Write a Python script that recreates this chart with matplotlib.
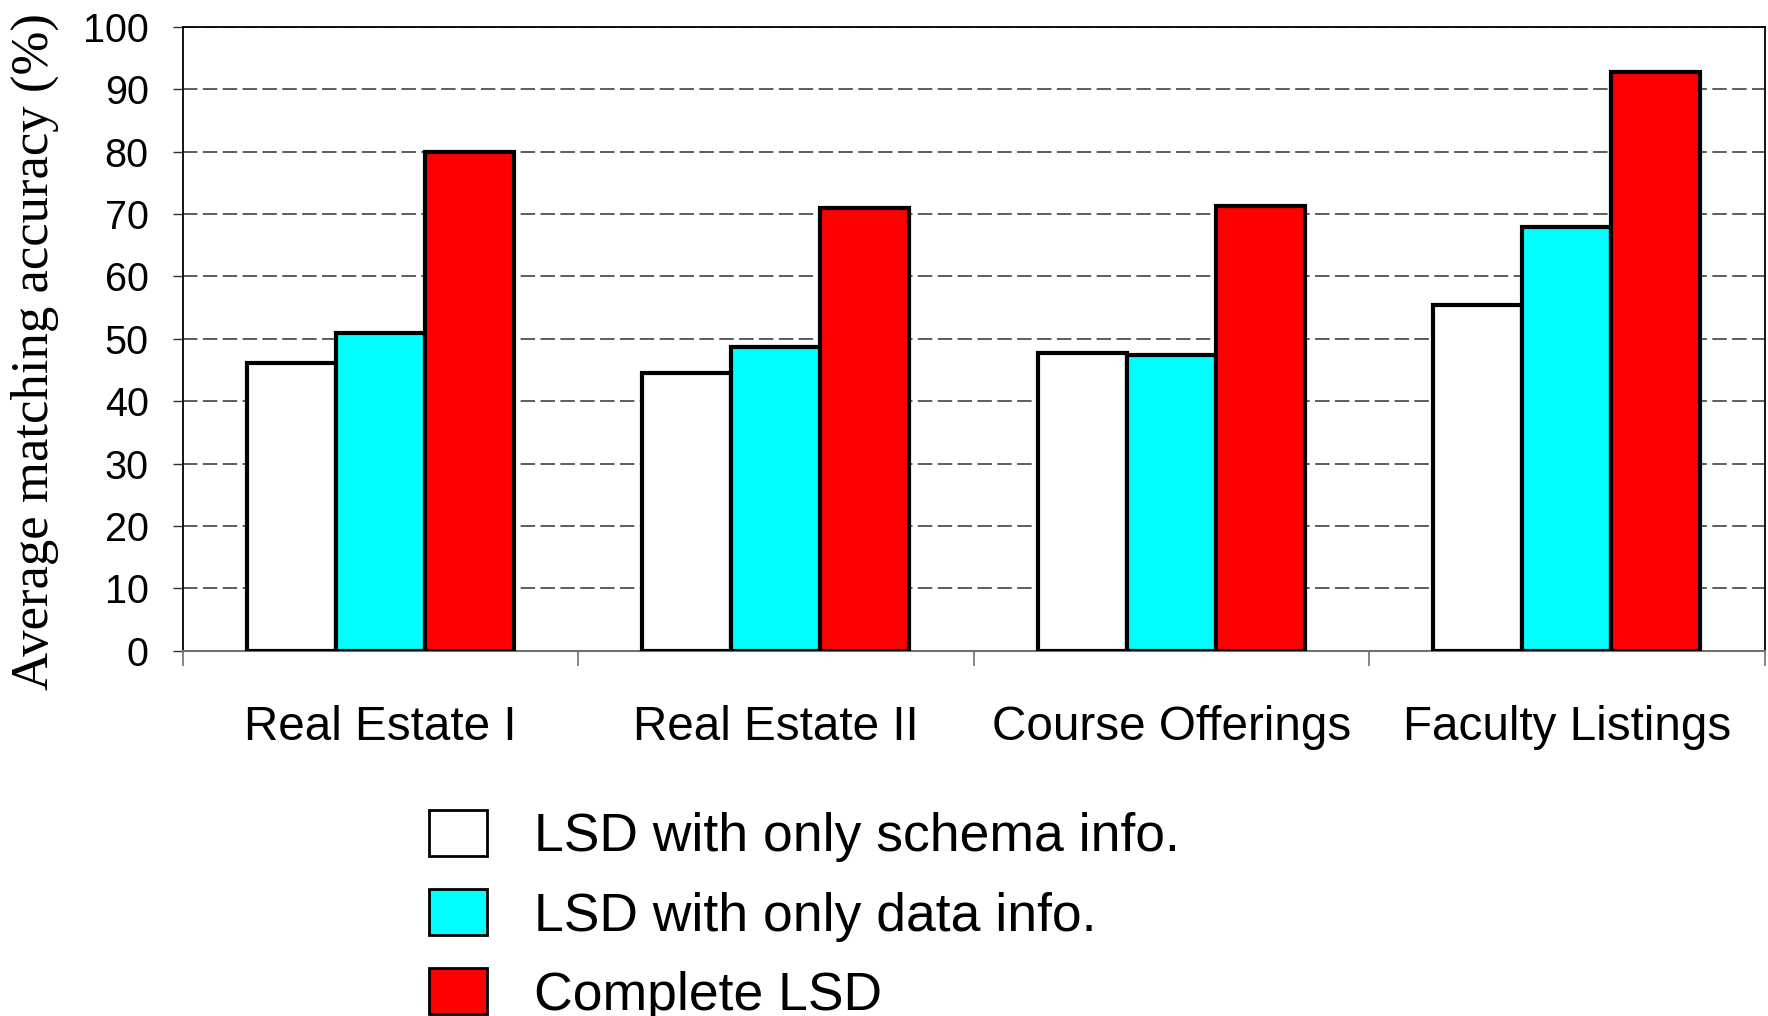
import matplotlib
matplotlib.use("Agg")
import matplotlib.pyplot as plt
import numpy as np
from matplotlib.patches import Patch

# --- data ---------------------------------------------------------------
categories = ["Real Estate I", "Real Estate II", "Course Offerings", "Faculty Listings"]
series_names = ["LSD with only schema info.", "LSD with only data info.", "Complete LSD"]
schema_only = [46.1, 44.5, 47.8, 55.5]
data_only = [50.9, 48.7, 47.4, 68.0]
complete_lsd = [80.0, 71.0, 71.3, 92.8]
series_colors = ["#FFFFFF", "#00FFFF", "#FF0000"]
y_ticks = [0, 10, 20, 30, 40, 50, 60, 70, 80, 90, 100]

sans = "Liberation Sans"
serif = "Liberation Serif"

W, H, DPI = 1768, 1016, 100
fig = plt.figure(figsize=(W / DPI, H / DPI), dpi=DPI)
ax = fig.add_axes([182.7 / W, 1 - 650.6 / H, (1764.7 - 182.7) / W, (650.6 - 27) / H])

x = np.arange(len(categories))
bw = 0.225
values = [schema_only, data_only, complete_lsd]
for i, (vals, col) in enumerate(zip(values, series_colors)):
    ax.bar(x + (i - 1) * bw, vals, width=bw, color=col, edgecolor="black",
           linewidth=3.0, zorder=3)

ax.set_xlim(-0.5, len(categories) - 0.5)
ax.set_ylim(0, 100)
ax.set_yticks(y_ticks)
ax.set_yticklabels([str(t) for t in y_ticks], fontfamily=sans, fontsize=28.5)
ax.tick_params(axis="y", length=7.5, width=1.0, color="#303030", pad=17)

# category labels centred on groups, tick marks on group boundaries
ax.set_xticks(x)
ax.set_xticklabels(categories, fontfamily=sans, fontsize=34.3)
ax.tick_params(axis="x", which="major", length=0, pad=39)
ax.set_xticks(np.arange(len(categories) + 1) - 0.5, minor=True)
ax.tick_params(axis="x", which="minor", length=11, width=1.2, color="#707070")

ax.yaxis.grid(True, linestyle=(0, (8.0, 3.0)), linewidth=1.3, color="#505050", zorder=0)
ax.set_axisbelow(True)
for side in ("top", "right", "left"):
    ax.spines[side].set_color("black")
    ax.spines[side].set_linewidth(1.3)
ax.spines["bottom"].set_color("#707070")
ax.spines["bottom"].set_linewidth(1.5)

fig.text(35 / W, 1 - 352 / H, "Average matching accuracy (%)", rotation=90,
         ha="center", va="center", fontfamily=serif, fontsize=38)

handles = [Patch(facecolor=c, edgecolor="black", linewidth=2.0) for c in series_colors]
fs_leg = 38.5
leg = fig.legend(handles, series_names, loc="upper left",
                 bbox_to_anchor=(429 / W, 1 - 810 / H), frameon=False,
                 prop={"family": sans, "size": fs_leg},
                 handlelength=1.08, handleheight=0.95, handletextpad=0.89,
                 labelspacing=0.5, borderpad=0, borderaxespad=0)

fig.savefig("out.png", dpi=DPI)
